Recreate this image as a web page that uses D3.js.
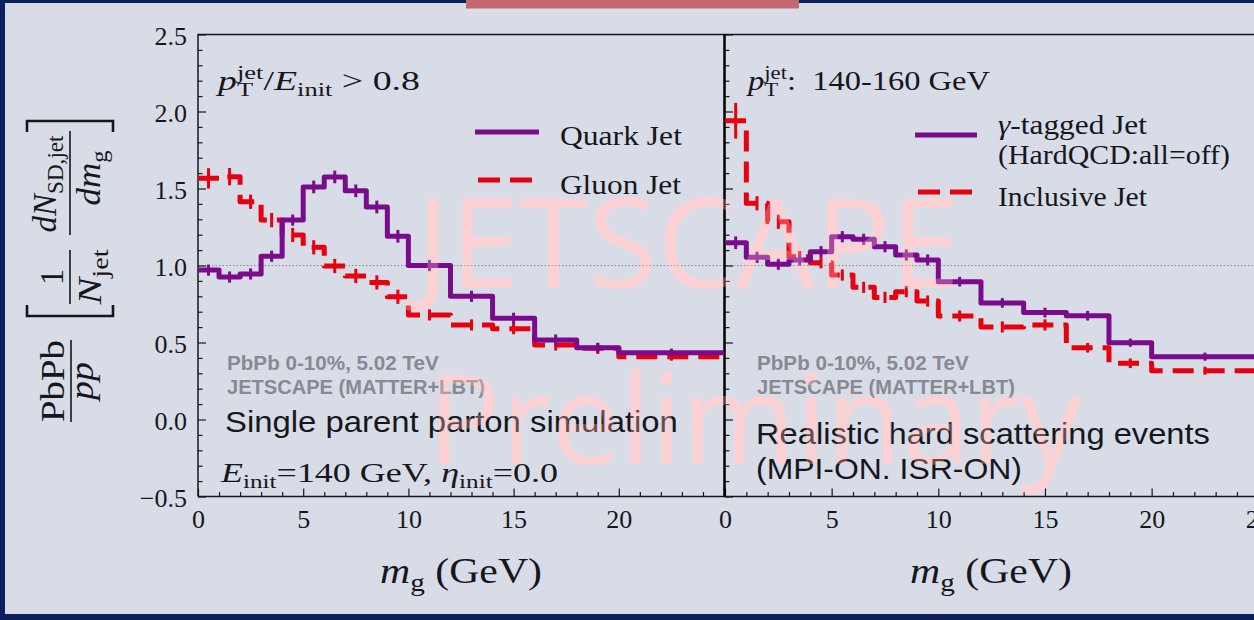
<!DOCTYPE html>
<html>
<head>
<meta charset="utf-8">
<script src="https://cdn.jsdelivr.net/npm/d3@7"></script>
<style>
  body { margin: 0; background: #0c1f5e; }
  svg { display: block; }
  svg text { white-space: pre; }
</style>
</head>
<body>
<script>
// bins in m_g (GeV), shared by both panels
var binEdges = [0, 1, 2, 3, 4, 5, 6, 7, 8, 9, 10, 12, 14, 16, 18, 20, 25];

// left panel: single parent parton
var quarkJet = [0.97, 0.925, 0.945, 1.06, 1.295, 1.51, 1.575, 1.485, 1.38, 1.19, 1.0, 0.80, 0.657, 0.516, 0.466, 0.434];
var quarkErr = [0.02, 0.02, 0.02, 0.02, 0.02, 0.025, 0.025, 0.025, 0.025, 0.025, 0.02, 0.02, 0.02, 0.02, 0.015, 0.01];
var gluonJet = [1.566, 1.577, 1.414, 1.295, 1.198, 1.118, 0.997, 0.932, 0.89, 0.797, 0.679, 0.614, 0.59, 0.484, 0.462, 0.408];
var gluonErr = [0.05, 0.04, 0.03, 0.03, 0.03, 0.03, 0.03, 0.03, 0.03, 0.03, 0.02, 0.02, 0.02, 0.02, 0.02, 0.01];

// right panel: realistic events
var gammaJet = [1.148, 1.053, 1.008, 1.035, 1.09, 1.187, 1.17, 1.122, 1.068, 1.036, 0.895, 0.757, 0.694, 0.674, 0.499, 0.408];
var gammaErr = [0.025, 0.02, 0.02, 0.02, 0.02, 0.02, 0.02, 0.02, 0.02, 0.02, 0.015, 0.015, 0.015, 0.015, 0.01, 0.01];
var inclusiveJet = [1.94, 1.404, 1.284, 1.057, 1.018, 0.938, 0.858, 0.793, 0.83, 0.769, 0.672, 0.601, 0.614, 0.466, 0.365, 0.317];
var inclusiveErr = [0.1, 0.03, 0.03, 0.02, 0.02, 0.02, 0.02, 0.02, 0.02, 0.02, 0.02, 0.02, 0.02, 0.015, 0.015, 0.01];

var yTicks = [-0.5, 0, 0.5, 1, 1.5, 2, 2.5];
var xTicksLeft = [0, 5, 10, 15, 20];
var xTicksRight = [0, 5, 10, 15, 20, 25];

var W = 1254, H = 620;
var purple = '#7a0b8c', red = '#e8000e', ink = '#16171d';
var serif = '"Liberation Serif", "DejaVu Serif", serif';
var sans = '"Liberation Sans", Arial, sans-serif';

var svg = d3.select('body').append('svg').attr('width', W).attr('height', H);

// slide frame
svg.append('rect').attr('width', W).attr('height', H).attr('fill', '#0c1f5e');
svg.append('rect').attr('x', 5).attr('y', 3).attr('width', W - 5).attr('height', 611).attr('fill', '#d8dce6');
svg.append('rect').attr('x', 466).attr('y', 0).attr('width', 333).attr('height', 8.5).attr('fill', '#c4696f');

// watermark: solid pink under everything, faint copy on top tints what it covers
function watermark(op) {
  var wm = svg.append('g').attr('fill', '#fcd1d4').attr('opacity', op)
    .style('font-family', '"Open Sans", "Noto Sans", sans-serif').style('font-weight', 400);
  wm.append('text').attr('x', 416).attr('y', 288).style('font-size', '124px')
    .attr('textLength', 544).attr('lengthAdjust', 'spacingAndGlyphs').text('JETSCAPE');
  wm.append('text').attr('x', 427).attr('y', 464).style('font-size', '124px')
    .attr('textLength', 655).attr('lengthAdjust', 'spacingAndGlyphs').text('Preliminary');
}
watermark(1);

var y = d3.scaleLinear().domain([-0.5, 2.5]).range([496.5, 34.5]);
var xL = d3.scaleLinear().domain([0, 25]).range([198, 724]);
var xR = d3.scaleLinear().domain([0, 25]).range([725, 1258.3]);

// reference line at 1
svg.append('line').attr('x1', 198).attr('x2', W).attr('y1', y(1)).attr('y2', y(1))
  .attr('stroke', '#8a8a8a').attr('stroke-width', 1).attr('stroke-dasharray', '1.5,2');

var minorY = d3.range(-5, 26).map(d => d / 10).filter(d => Math.round(d * 10) % 5 !== 0);
var minorX = d3.range(0, 26).filter(d => d % 5 !== 0);

function styleAxis(g) {
  g.select('.domain').remove();
  g.selectAll('line').attr('stroke', ink).attr('stroke-width', 1.2);
  g.selectAll('text').attr('fill', ink).style('font-family', serif).style('font-size', '26px');
}

// y axes
svg.append('g').attr('transform', 'translate(198,0)')
  .call(d3.axisLeft(y).tickValues(yTicks).tickSize(-8).tickPadding(11).tickFormat(d3.format('.1f')))
  .call(styleAxis)
  .selectAll('text').attr('dy', '0.4em');
svg.append('g').attr('transform', 'translate(198,0)')
  .call(d3.axisLeft(y).tickValues(minorY).tickSize(-4.5).tickFormat('')).call(styleAxis);
svg.append('g').attr('transform', 'translate(725,0)')
  .call(d3.axisLeft(y).tickValues(yTicks).tickSize(-8).tickFormat('')).call(styleAxis);
svg.append('g').attr('transform', 'translate(725,0)')
  .call(d3.axisLeft(y).tickValues(minorY).tickSize(-4.5).tickFormat('')).call(styleAxis);

// x axes
[[xL, xTicksLeft.concat([25])], [xR, xTicksRight]].forEach(function(a, k) {
  var sc = a[0];
  svg.append('g').attr('transform', 'translate(0,496.5)')
    .call(d3.axisBottom(sc).tickValues(a[1]).tickSize(-8).tickPadding(13)
      .tickFormat(d => (k === 0 && d === 25) ? '' : d))
    .call(styleAxis);
  svg.append('g').attr('transform', 'translate(0,496.5)')
    .call(d3.axisBottom(sc).tickValues(minorX).tickSize(-4.5).tickFormat('')).call(styleAxis);
});

// frame
svg.append('path').attr('d', 'M198,496.5V34.5H' + W + 'M198,496.5H' + W)
  .attr('fill', 'none').attr('stroke', ink).attr('stroke-width', 1.5);
svg.append('line').attr('x1', 724.5).attr('x2', 724.5).attr('y1', 34.5).attr('y2', 496.5)
  .attr('stroke', '#000').attr('stroke-width', 2.5);

// histograms
function drawHist(sc, vals, errs, color, dashed) {
  var pts = binEdges.map((e, i) => [e, vals[Math.min(i, vals.length - 1)]]);
  var line = d3.line().x(d => sc(d[0])).y(d => y(d[1])).curve(d3.curveStepAfter);
  svg.append('path').datum(pts).attr('d', line)
    .attr('fill', 'none').attr('stroke', color).attr('stroke-width', 5)
    .attr('stroke-linejoin', 'round')
    .attr('stroke-dasharray', dashed ? '21,10' : null);
  svg.append('g').selectAll('line').data(vals).join('line')
    .attr('x1', (d, i) => sc((binEdges[i] + binEdges[i + 1]) / 2))
    .attr('x2', (d, i) => sc((binEdges[i] + binEdges[i + 1]) / 2))
    .attr('y1', (d, i) => y(d - errs[i]) + 2.5)
    .attr('y2', (d, i) => y(d + errs[i]) - 2.5)
    .attr('stroke', color).attr('stroke-width', 3);
}
drawHist(xL, gluonJet, gluonErr, red, true);
drawHist(xL, quarkJet, quarkErr, purple, false);
drawHist(xR, inclusiveJet, inclusiveErr, red, true);
drawHist(xR, gammaJet, gammaErr, purple, false);

// little layout for latex-like text: parts laid out left to right
function mathText(parts, size, family, color, weight) {
  var g = svg.append('g');
  var cx = 0, hold = 0;
  parts.forEach(function(p) {
    var fs = (p.sub || p.sup) ? size * 0.7 : size;
    var dy = p.sub ? size * 0.22 : (p.sup ? -size * 0.42 : 0);
    var t = g.append('text').attr('x', cx).attr('y', dy)
      .style('font-family', family || serif).style('font-size', fs + 'px')
      .style('font-style', p.it ? 'italic' : 'normal')
      .style('font-weight', weight || 'normal')
      .attr('fill', color || ink).text(p.t);
    var w = t.node().getComputedTextLength();
    if (p.stack) { hold = w; }
    else { cx += Math.max(w, hold); hold = 0; }
  });
  g.w = cx;
  return g;
}
function place(g, x, base, w, mid) {
  var s = w ? w / g.w : 1;
  var x0 = mid ? x - g.w * s / 2 : x;
  g.attr('transform', 'translate(' + x0 + ',' + base + ') scale(' + s + ',1)');
  return g;
}
function placeRot(g, bx, cy, w) {
  var s = w ? w / g.w : 1;
  g.attr('transform', 'translate(' + bx + ',' + (cy + g.w * s / 2) + ') rotate(-90) scale(' + s + ',1)');
  return g;
}

// panel titles
place(mathText([{t: 'p', it: 1}, {t: 'jet', sup: 1, stack: 1}, {t: 'T', sub: 1}, {t: '/'},
  {t: 'E', it: 1}, {t: 'init', sub: 1}, {t: ' > 0.8'}], 27), 218, 90, 202);
place(mathText([{t: 'p', it: 1}, {t: 'jet', sup: 1, stack: 1}, {t: 'T', sub: 1},
  {t: ':  140-160 GeV'}], 27), 748, 90, 242);

// legends
svg.append('line').attr('x1', 475).attr('x2', 539).attr('y1', 132).attr('y2', 132)
  .attr('stroke', purple).attr('stroke-width', 5);
svg.append('line').attr('x1', 478).attr('x2', 532).attr('y1', 180).attr('y2', 180)
  .attr('stroke', red).attr('stroke-width', 5).attr('stroke-dasharray', '22,10');
place(mathText([{t: 'Quark Jet'}], 27), 560, 145, 122);
place(mathText([{t: 'Gluon Jet'}], 27), 560, 194, 121);

svg.append('line').attr('x1', 915).attr('x2', 977).attr('y1', 135).attr('y2', 135)
  .attr('stroke', purple).attr('stroke-width', 5);
svg.append('line').attr('x1', 918).attr('x2', 972).attr('y1', 192).attr('y2', 192)
  .attr('stroke', red).attr('stroke-width', 5).attr('stroke-dasharray', '22,10');
place(mathText([{t: 'γ', it: 1}, {t: '-tagged Jet'}], 27), 998, 134, 149);
place(mathText([{t: '(HardQCD:all=off)'}], 27), 998, 164, 232);
place(mathText([{t: 'Inclusive Jet'}], 27), 998, 206, 149);

// annotations
var grey = '#878a93';
place(mathText([{t: 'PbPb 0-10%, 5.02 TeV'}], 20, sans, grey, 'bold'), 227, 370, 212);
place(mathText([{t: 'JETSCAPE (MATTER+LBT)'}], 20, sans, grey, 'bold'), 227, 394, 258);
place(mathText([{t: 'PbPb 0-10%, 5.02 TeV'}], 20, sans, grey, 'bold'), 757, 370, 212);
place(mathText([{t: 'JETSCAPE (MATTER+LBT)'}], 20, sans, grey, 'bold'), 757, 394, 258);
place(mathText([{t: 'Single parent parton simulation'}], 30, sans), 225, 432, 453);
place(mathText([{t: 'Realistic hard scattering events'}], 30, sans), 756, 444, 454);
place(mathText([{t: '(MPI-ON. ISR-ON)'}], 30, sans), 756, 479, 266);
place(mathText([{t: 'E', it: 1}, {t: 'init', sub: 1}, {t: '=140 GeV, '}, {t: 'η', it: 1},
  {t: 'init', sub: 1}, {t: '=0.0'}], 27), 221, 482, 337);

// x labels
place(mathText([{t: 'm', it: 1}, {t: 'g', sub: 1}, {t: ' (GeV)'}], 36), 461, 583, 162, true);
place(mathText([{t: 'm', it: 1}, {t: 'g', sub: 1}, {t: ' (GeV)'}], 36), 991, 583, 162, true);

// rotated y label
placeRot(mathText([{t: 'PbPb'}], 33), 64, 381, 82);
placeRot(mathText([{t: 'pp', it: 1}], 33), 93, 381, 38);
placeRot(mathText([{t: '1'}], 33), 63, 277);
placeRot(mathText([{t: 'N', it: 1}, {t: 'jet', sub: 1}], 33), 101, 277, 55);
placeRot(mathText([{t: 'dN', it: 1}, {t: 'SD,jet', sub: 1}], 33), 56, 184, 97);
placeRot(mathText([{t: 'dm', it: 1}, {t: 'g', sub: 1}], 33), 100, 178, 55);
svg.append('path')
  .attr('d', 'M71,340V422M70,250V304M70,131V235')
  .attr('stroke', ink).attr('stroke-width', 1.6);
svg.append('path')
  .attr('d', 'M27,305V316H113V305M27,132V121H113V132')
  .attr('fill', 'none').attr('stroke', ink).attr('stroke-width', 2.6);

watermark(0.3);
</script>
</body>
</html>
